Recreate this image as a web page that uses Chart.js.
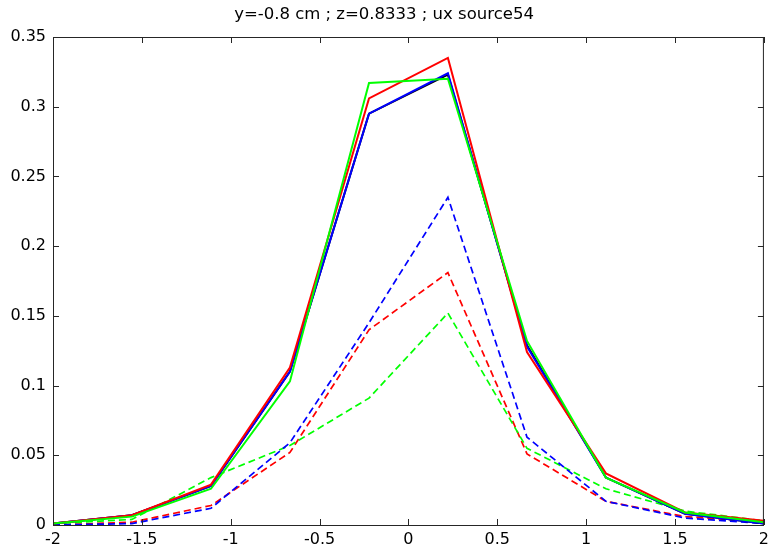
<!DOCTYPE html>
<html>
<head>
<meta charset="utf-8">
<script src="https://cdn.jsdelivr.net/npm/chart.js@4/dist/chart.umd.min.js"></script>
<style>
  html, body { margin: 0; padding: 0; background: #fff; }
  canvas { display: block; }
</style>
</head>
<body>
<canvas id="chart" width="774" height="550"></canvas>
<script>
// x positions (linspace(-2, 2, 10))
const xVals = [-2, -1.556, -1.111, -0.667, -0.222, 0.222, 0.667, 1.111, 1.556, 2];

// solid curves
const blackSolid = [0.001, 0.007, 0.028, 0.110, 0.295, 0.323, 0.129, 0.034, 0.008, 0.001];
const blueSolid  = [0.001, 0.007, 0.028, 0.110, 0.295, 0.324, 0.128, 0.034, 0.008, 0.001];
const redSolid   = [0.001, 0.007, 0.029, 0.113, 0.306, 0.335, 0.124, 0.037, 0.009, 0.003];
const greenSolid = [0.001, 0.006, 0.026, 0.103, 0.317, 0.320, 0.132, 0.034, 0.009, 0.002];

// dashed curves
const blueDashed  = [0.000, 0.001, 0.012, 0.059, 0.145, 0.235, 0.063, 0.017, 0.005, 0.001];
const redDashed   = [0.000, 0.002, 0.014, 0.052, 0.140, 0.181, 0.051, 0.017, 0.006, 0.002];
const greenDashed = [0.001, 0.004, 0.034, 0.057, 0.091, 0.152, 0.055, 0.026, 0.010, 0.003];

const titleText = "y=-0.8 cm ; z=0.8333 ; ux source54";

function pts(ys) {
  return xVals.map((x, i) => ({ x: x, y: ys[i] }));
}

function line(ys, color, dashed) {
  return {
    data: pts(ys),
    borderColor: color,
    borderWidth: dashed ? 1.7 : 2,
    borderDash: dashed ? [7, 4] : [],
    pointRadius: 0,
    fill: false,
    tension: 0
  };
}

function fmt(v) {
  return String(Number(v.toFixed(2)));
}

// matlab style box with inward ticks
const boxPlugin = {
  id: "box",
  afterDraw(chart) {
    const ctx = chart.ctx;
    const a = chart.chartArea;
    const xs = chart.scales.x;
    const ys = chart.scales.y;
    ctx.save();
    ctx.strokeStyle = "#262626";
    ctx.lineWidth = 1;
    ctx.strokeRect(a.left + 0.5, a.top + 0.5, a.right - a.left - 1, a.bottom - a.top);
    ctx.beginPath();
    xs.ticks.forEach(t => {
      const px = Math.round(xs.getPixelForValue(t.value)) + 0.5;
      ctx.moveTo(px, a.bottom); ctx.lineTo(px, a.bottom - 6);
      ctx.moveTo(px, a.top); ctx.lineTo(px, a.top + 6);
    });
    ys.ticks.forEach(t => {
      const py = Math.round(ys.getPixelForValue(t.value)) + 0.5;
      ctx.moveTo(a.left, py); ctx.lineTo(a.left + 6, py);
      ctx.moveTo(a.right, py); ctx.lineTo(a.right - 6, py);
    });
    ctx.stroke();
    ctx.restore();
  }
};

const font = { family: "'DejaVu Sans', sans-serif", size: 16 };

// first dataset is drawn on top
new Chart(document.getElementById("chart").getContext("2d"), {
  type: "line",
  data: {
    datasets: [
      line(greenSolid, "#00ff00", false),
      line(redSolid, "#ff0000", false),
      line(blueSolid, "#0000ff", false),
      line(blackSolid, "#000000", false),
      line(blueDashed, "#0000ff", true),
      line(greenDashed, "#00ff00", true),
      line(redDashed, "#ff0000", true)
    ]
  },
  options: {
    responsive: false,
    animation: false,
    devicePixelRatio: 1,
    layout: { padding: { left: 0, right: 6, top: 0, bottom: 0 } },
    plugins: {
      legend: { display: false },
      tooltip: { enabled: false },
      title: {
        display: true,
        text: titleText,
        color: "#000",
        font: { family: font.family, size: 16.5, weight: "normal", lineHeight: 1.2 },
        padding: { top: 5, bottom: 12.2 }
      }
    },
    scales: {
      x: {
        type: "linear",
        min: -2,
        max: 2,
        border: { display: false },
        grid: { display: false, drawTicks: false },
        ticks: { stepSize: 0.5, color: "#000", font: font, padding: 5, maxRotation: 0, callback: fmt },
        afterFit(s) { s.height = 25; }
      },
      y: {
        type: "linear",
        min: 0,
        max: 0.35,
        border: { display: false },
        grid: { display: false, drawTicks: false },
        ticks: { stepSize: 0.05, color: "#000", font: font, padding: 7, callback: fmt },
        afterFit(s) { s.width = 53; }
      }
    }
  },
  plugins: [boxPlugin]
});
</script>
</body>
</html>
